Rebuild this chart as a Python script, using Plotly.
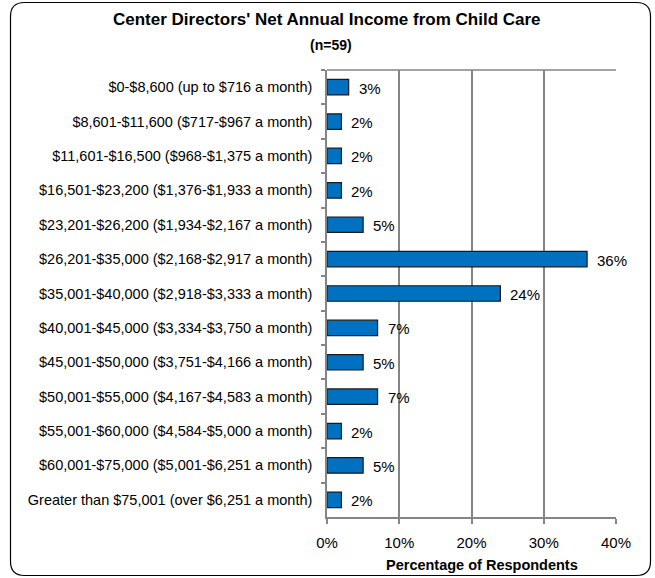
import plotly.graph_objects as go

# Income brackets (top to bottom) and share of respondents in percent
categories = [
    "$0-$8,600 (up to $716 a month)",
    "$8,601-$11,600 ($717-$967 a month)",
    "$11,601-$16,500 ($968-$1,375 a month)",
    "$16,501-$23,200 ($1,376-$1,933 a month)",
    "$23,201-$26,200 ($1,934-$2,167 a month)",
    "$26,201-$35,000 ($2,168-$2,917 a month)",
    "$35,001-$40,000 ($2,918-$3,333 a month)",
    "$40,001-$45,000 ($3,334-$3,750 a month)",
    "$45,001-$50,000 ($3,751-$4,166 a month)",
    "$50,001-$55,000 ($4,167-$4,583 a month)",
    "$55,001-$60,000 ($4,584-$5,000 a month)",
    "$60,001-$75,000 ($5,001-$6,251 a month)",
    "Greater than $75,001 (over $6,251 a month)",
]
percentages = [3, 2, 2, 2, 5, 36, 24, 7, 5, 7, 2, 5, 2]
x_ticks = [0, 10, 20, 30, 40]
x_tick_labels = ["0%", "10%", "20%", "30%", "40%"]

W, H = 655, 578
ML, MR, MT, MB = 327, 39, 70, 61
PW, PH = W - ML - MR, H - MT - MB

FONT = "Liberation Sans, Arial, sans-serif"
GRID = "#858585"


def px(xp):
    return (xp - ML) / PW


def py(yp):
    return 1 - (yp - MT) / PH


fig = go.Figure()
fig.add_trace(go.Bar(
    x=percentages,
    y=categories,
    orientation="h",
    marker=dict(color="#0070C0", line=dict(color="#1a1a1a", width=1.2)),
    width=0.45,
    hoverinfo="skip",
))

# value labels just past the end of each bar
annotations = []
for cat, v in zip(categories, percentages):
    annotations.append(dict(
        x=v, y=cat, xref="x", yref="y", text=f"{v}%", showarrow=False,
        xanchor="left", xshift=8, yshift=-1,
        font=dict(family=FONT, size=15, color="#000"),
    ))

annotations.append(dict(
    x=px(327), y=py(19), xref="paper", yref="paper",
    text="<b>Center Directors' Net Annual Income from Child Care</b>",
    showarrow=False, xanchor="center", yanchor="middle",
    font=dict(family=FONT, size=17, color="#000"),
))
annotations.append(dict(
    x=px(331), y=py(45), xref="paper", yref="paper",
    text="<b>(n=59)</b>", showarrow=False, xanchor="center", yanchor="middle",
    font=dict(family=FONT, size=14, color="#000"),
))
annotations.append(dict(
    x=px(482), y=py(565), xref="paper", yref="paper",
    text="<b>Percentage of Respondents</b>", showarrow=False,
    xanchor="center", yanchor="middle",
    font=dict(family=FONT, size=14.5, color="#000"),
))

# rounded outer frame
x0, x1, y0, y1, r = 10.5, 650.5, 2.5, 575.5, 14
path = (
    f"M {px(x0 + r)},{py(y0)} L {px(x1 - r)},{py(y0)} "
    f"Q {px(x1)},{py(y0)} {px(x1)},{py(y0 + r)} "
    f"L {px(x1)},{py(y1 - r)} Q {px(x1)},{py(y1)} {px(x1 - r)},{py(y1)} "
    f"L {px(x0 + r)},{py(y1)} Q {px(x0)},{py(y1)} {px(x0)},{py(y1 - r)} "
    f"L {px(x0)},{py(y0 + r)} Q {px(x0)},{py(y0)} {px(x0 + r)},{py(y0)} Z"
)
shapes = [
    dict(type="path", path=path, xref="paper", yref="paper",
         line=dict(color="#000", width=1.2), layer="above"),
    # top edge of the plot area
    dict(type="line", xref="paper", yref="paper", x0=0, x1=1, y0=1, y1=1,
         line=dict(color=GRID, width=1.5), layer="below"),
]

fig.update_layout(
    width=W, height=H,
    margin=dict(l=ML, r=MR, t=MT, b=MB, pad=0),
    paper_bgcolor="white", plot_bgcolor="white",
    showlegend=False,
    annotations=annotations,
    shapes=shapes,
    font=dict(family=FONT, color="#000"),
    xaxis=dict(
        range=[0, 40], tickvals=x_ticks, ticktext=x_tick_labels,
        showgrid=True, gridcolor=GRID, gridwidth=1.5,
        showline=True, linecolor=GRID, linewidth=1.5,
        ticks="outside", ticklen=5, tickcolor=GRID, tickwidth=1.5,
        tickfont=dict(family=FONT, size=15, color="#000"),
        zeroline=False, fixedrange=True, ticklabelstandoff=6,
    ),
    yaxis=dict(
        autorange="reversed", type="category",
        showline=True, linecolor=GRID, linewidth=1.5,
        ticks="outside", ticklen=4, tickcolor=GRID, tickwidth=1.5,
        tickson="boundaries",
        tickfont=dict(family=FONT, size=14.5, color="#000"),
        showgrid=False, fixedrange=True, ticklabelstandoff=10,
    ),
)

fig.write_html("out.html")
